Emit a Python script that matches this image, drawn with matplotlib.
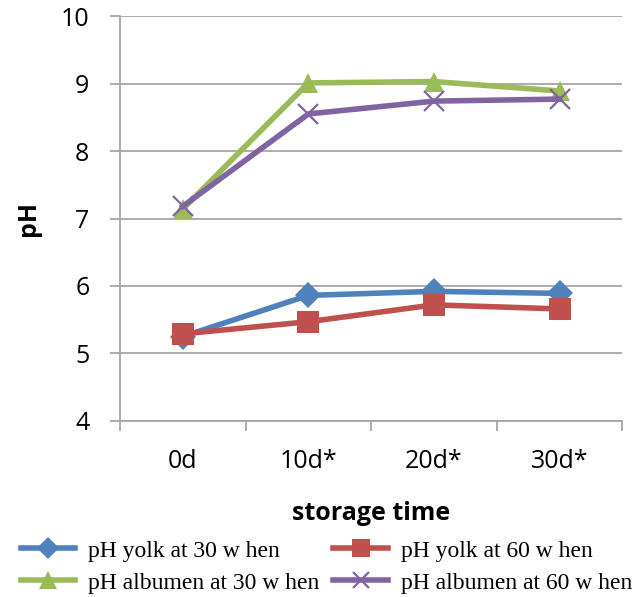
import numpy as np
import matplotlib
matplotlib.use("Agg")
import matplotlib.pyplot as plt
from matplotlib.ticker import FixedLocator

days = ["0d", "10d*", "20d*", "30d*"]
yolk_30 = [5.25, 5.86, 5.92, 5.89]
yolk_60 = [5.29, 5.47, 5.72, 5.66]
albumen_30 = [7.14, 9.01, 9.03, 8.89]
albumen_60 = [7.18, 8.55, 8.74, 8.77]

series = [
    ("pH yolk at 30 w hen", yolk_30, "#4F81BD", "D", 13),
    ("pH yolk at 60 w hen", yolk_60, "#C0504D", "s", 16),
    ("pH albumen at 30 w hen", albumen_30, "#9BBB59", "^", 15),
    ("pH albumen at 60 w hen", albumen_60, "#8064A2", "x", 14),
]

fig = plt.figure(figsize=(6.4, 5.97), dpi=100)
ax = fig.add_axes([0.1875, 0.295, 0.785, 0.678])

x = np.arange(len(days))
lines = []
for label, vals, color, marker, ms in series:
    ln, = ax.plot(x, vals, color=color, lw=4, marker=marker, markersize=ms,
                  markeredgewidth=1.6 if marker == "x" else 0,
                  markeredgecolor=color, label=label)
    lines.append(ln)

ax.set_xlim(-0.5, len(days) - 0.5)
ax.set_ylim(4, 10)
ax.set_yticks(range(4, 11))
ax.set_xticks(x)
ax.set_xticklabels(days)
ax.xaxis.set_minor_locator(FixedLocator(np.arange(-0.5, len(days), 1.0)))

ax.yaxis.grid(True, color="#A6A6A6", lw=1.3)
ax.set_axisbelow(True)
for s in ["top", "right"]:
    ax.spines[s].set_visible(False)
for s in ["left", "bottom"]:
    ax.spines[s].set_color("#A6A6A6")
    ax.spines[s].set_linewidth(1.3)

tick_font = "Open Sans"
ax.tick_params(axis="y", length=7, width=1.3, color="#A6A6A6", pad=15,
               labelsize=18)
ax.tick_params(axis="x", which="major", length=0, pad=20, labelsize=18)
ax.tick_params(axis="x", which="minor", length=7, width=1.3, color="#A6A6A6")
for t in ax.get_xticklabels() + ax.get_yticklabels():
    t.set_fontfamily(tick_font)

ax.set_xlabel("storage time", fontsize=18, fontweight="bold",
              fontfamily=tick_font, labelpad=20)
ax.set_ylabel("pH", fontsize=18, fontweight="bold", fontfamily=tick_font,
              labelpad=14)

# two rows: yolk on top, albumen below (legend fills column-wise)
order = [0, 2, 1, 3]
fig.legend([lines[i] for i in order], [series[i][0] for i in order],
           loc="lower center", bbox_to_anchor=(0.51, -0.03), ncol=2,
           frameon=False, handlelength=2.3, columnspacing=0.6,
           handletextpad=0.55, labelspacing=0.45, markerscale=0.85,
           prop={"family": "Liberation Serif", "size": 17})

fig.savefig("out.png", dpi=100)
